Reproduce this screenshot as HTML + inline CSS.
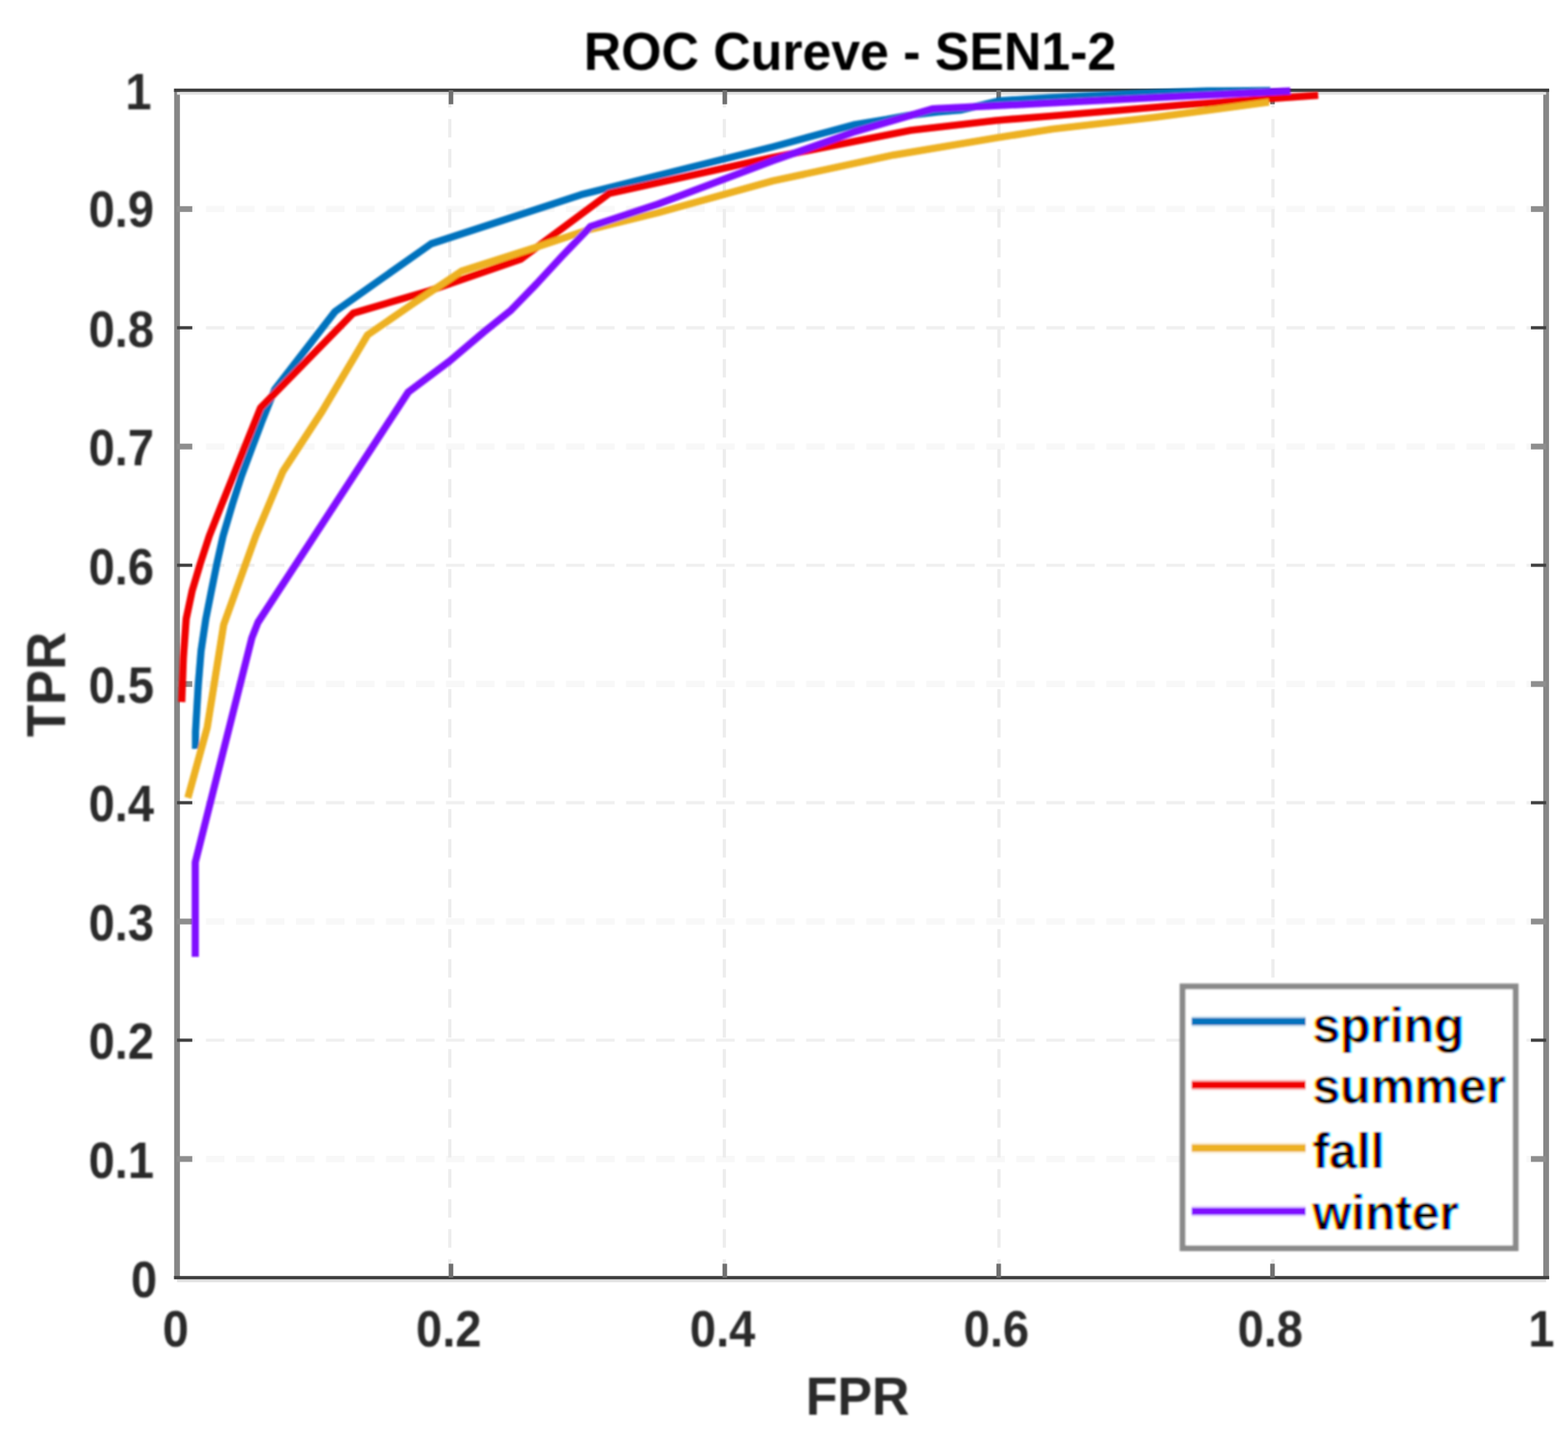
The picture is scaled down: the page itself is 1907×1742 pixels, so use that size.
<!DOCTYPE html>
<html lang="en"><head><meta charset="utf-8">
<title>ROC Cureve - SEN1-2</title>
<style>
html,body{margin:0;padding:0;background:#fff;}
body{width:1907px;height:1742px;}
svg{display:block;}
text{font-family:"Liberation Sans",sans-serif;font-weight:bold;}
.tk{fill:#2a2a2a;}
.lb{fill:#2a2a2a;}
.tt{fill:#000;}
.lg{fill:#000;}
.cv{fill:none;stroke-width:8.7;stroke-linejoin:round;stroke-linecap:butt;}
</style></head><body>
<svg width="1907" height="1742" viewBox="0 0 1907 1742">
<defs>
<filter id="soft" x="-2%" y="-2%" width="104%" height="104%"><feGaussianBlur stdDeviation="1"/></filter>
<filter id="soft2" x="-2%" y="-2%" width="104%" height="104%"><feGaussianBlur stdDeviation="0.7"/></filter>
<filter id="ct" x="-5%" y="-5%" width="110%" height="110%" color-interpolation-filters="sRGB">
<feOffset in="SourceAlpha" dx="1.6" result="aR"/>
<feOffset in="SourceAlpha" dx="-1.6" result="aB"/>
<feColorMatrix in="aR" type="matrix" values="0 0 0 0 0  0 0 0 0 1  0 0 0 0 1  0 0 0 1 0" result="cR"/>
<feColorMatrix in="SourceAlpha" type="matrix" values="0 0 0 0 1  0 0 0 0 0  0 0 0 0 1  0 0 0 1 0" result="cG"/>
<feColorMatrix in="aB" type="matrix" values="0 0 0 0 1  0 0 0 0 1  0 0 0 0 0  0 0 0 1 0" result="cB"/>
<feBlend in="cR" in2="cG" mode="multiply" result="m1"/>
<feBlend in="m1" in2="cB" mode="multiply"/>
</filter>
</defs>
<rect width="1907" height="1742" fill="#fff"/>
<g filter="url(#soft2)">
<g stroke-dasharray="22.5 14" fill="none">
<line x1="215.3" y1="1409.9" x2="1880.4" y2="1409.9" stroke-dashoffset="1.3" stroke="#f8f8f8" stroke-width="7.6"/>
<line x1="215.3" y1="1265.4" x2="1880.4" y2="1265.4" stroke-dashoffset="1.3" stroke="#f0f0f0" stroke-width="3.9"/>
<line x1="215.3" y1="1121.0" x2="1880.4" y2="1121.0" stroke-dashoffset="1.3" stroke="#f8f8f8" stroke-width="7.6"/>
<line x1="215.3" y1="976.5" x2="1880.4" y2="976.5" stroke-dashoffset="1.3" stroke="#f0f0f0" stroke-width="3.9"/>
<line x1="215.3" y1="832.1" x2="1880.4" y2="832.1" stroke-dashoffset="1.3" stroke="#f8f8f8" stroke-width="7.6"/>
<line x1="215.3" y1="687.6" x2="1880.4" y2="687.6" stroke-dashoffset="1.3" stroke="#f0f0f0" stroke-width="3.9"/>
<line x1="215.3" y1="543.2" x2="1880.4" y2="543.2" stroke-dashoffset="1.3" stroke="#f8f8f8" stroke-width="7.6"/>
<line x1="215.3" y1="398.7" x2="1880.4" y2="398.7" stroke-dashoffset="1.3" stroke="#f0f0f0" stroke-width="3.9"/>
<line x1="215.3" y1="254.3" x2="1880.4" y2="254.3" stroke-dashoffset="1.3" stroke="#f8f8f8" stroke-width="7.6"/>
</g>
<g stroke="#ededed" stroke-width="3.9" stroke-dasharray="22.5 14" fill="none">
<line x1="547.1" y1="1554.3" x2="547.1" y2="109.8"/>
<line x1="880.9" y1="1554.3" x2="880.9" y2="109.8"/>
<line x1="1214.9" y1="1554.3" x2="1214.9" y2="109.8"/>
<line x1="1548.2" y1="1554.3" x2="1548.2" y2="109.8"/>
</g>
<g fill="none">
<line x1="215.3" y1="109.8" x2="215.3" y2="1554.3" stroke="#868686" stroke-width="7"/>
<line x1="1880.4" y1="109.8" x2="1880.4" y2="1554.3" stroke="#868686" stroke-width="7"/>
<line x1="215.3" y1="113.4" x2="1880.4" y2="113.4" stroke="#e2e2e2" stroke-width="3.6"/>
<line x1="215.3" y1="1557.9" x2="1880.4" y2="1557.9" stroke="#e2e2e2" stroke-width="3.6"/>
<line x1="211.6" y1="109.8" x2="1884.1" y2="109.8" stroke="#3e3e3e" stroke-width="3.9"/>
<line x1="211.6" y1="1554.3" x2="1884.1" y2="1554.3" stroke="#3e3e3e" stroke-width="3.9"/>
<line x1="215.3" y1="1409.9" x2="233.8" y2="1409.9" stroke="#8e8e8e" stroke-width="7"/>
<line x1="1880.4" y1="1409.9" x2="1861.9" y2="1409.9" stroke="#8e8e8e" stroke-width="7"/>
<line x1="215.3" y1="1265.4" x2="233.8" y2="1265.4" stroke="#404040" stroke-width="3.9"/>
<line x1="1880.4" y1="1265.4" x2="1861.9" y2="1265.4" stroke="#404040" stroke-width="3.9"/>
<line x1="215.3" y1="1121.0" x2="233.8" y2="1121.0" stroke="#8e8e8e" stroke-width="7"/>
<line x1="1880.4" y1="1121.0" x2="1861.9" y2="1121.0" stroke="#8e8e8e" stroke-width="7"/>
<line x1="215.3" y1="976.5" x2="233.8" y2="976.5" stroke="#404040" stroke-width="3.9"/>
<line x1="1880.4" y1="976.5" x2="1861.9" y2="976.5" stroke="#404040" stroke-width="3.9"/>
<line x1="215.3" y1="832.1" x2="233.8" y2="832.1" stroke="#8e8e8e" stroke-width="7"/>
<line x1="1880.4" y1="832.1" x2="1861.9" y2="832.1" stroke="#8e8e8e" stroke-width="7"/>
<line x1="215.3" y1="687.6" x2="233.8" y2="687.6" stroke="#404040" stroke-width="3.9"/>
<line x1="1880.4" y1="687.6" x2="1861.9" y2="687.6" stroke="#404040" stroke-width="3.9"/>
<line x1="215.3" y1="543.2" x2="233.8" y2="543.2" stroke="#8e8e8e" stroke-width="7"/>
<line x1="1880.4" y1="543.2" x2="1861.9" y2="543.2" stroke="#8e8e8e" stroke-width="7"/>
<line x1="215.3" y1="398.7" x2="233.8" y2="398.7" stroke="#404040" stroke-width="3.9"/>
<line x1="1880.4" y1="398.7" x2="1861.9" y2="398.7" stroke="#404040" stroke-width="3.9"/>
<line x1="215.3" y1="254.3" x2="233.8" y2="254.3" stroke="#8e8e8e" stroke-width="7"/>
<line x1="1880.4" y1="254.3" x2="1861.9" y2="254.3" stroke="#8e8e8e" stroke-width="7"/>
<line x1="548.5" y1="1554.3" x2="548.5" y2="1537.3" stroke="#707070" stroke-width="5.6"/>
<line x1="548.5" y1="109.8" x2="548.5" y2="126.8" stroke="#707070" stroke-width="5.6"/>
<line x1="881.5" y1="1554.3" x2="881.5" y2="1537.3" stroke="#707070" stroke-width="5.6"/>
<line x1="881.5" y1="109.8" x2="881.5" y2="126.8" stroke="#707070" stroke-width="5.6"/>
<line x1="1214.6" y1="1554.3" x2="1214.6" y2="1537.3" stroke="#707070" stroke-width="5.6"/>
<line x1="1214.6" y1="109.8" x2="1214.6" y2="126.8" stroke="#707070" stroke-width="5.6"/>
<line x1="1547.6" y1="1554.3" x2="1547.6" y2="1537.3" stroke="#707070" stroke-width="5.6"/>
<line x1="1547.6" y1="109.8" x2="1547.6" y2="126.8" stroke="#707070" stroke-width="5.6"/>
</g>
</g>
<g filter="url(#soft)">
<polyline class="cv" stroke="#0072bd" stroke-opacity="0.18" stroke-width="13.6" points="237.8,911.0 237.8,890.0 241.1,833.9 244.5,792.0 250.3,753.0 257.0,719.1 263.8,685.5 271.3,652.0 282.8,613.0 293.6,579.1 306.2,545.5 318.8,512.0 334.0,474.0 407.5,379.0 524.5,296.5 706.8,236.8 940.0,178.6 1040.0,151.5 1078.0,145.4 1105.0,140.4 1141.0,136.2 1168.0,134.0 1216.0,122.5 1280.0,118.6 1380.0,113.8 1469.0,110.7 1545.0,110.2"/>
<polyline class="cv" stroke="#0072bd" points="237.8,911.0 237.8,890.0 241.1,833.9 244.5,792.0 250.3,753.0 257.0,719.1 263.8,685.5 271.3,652.0 282.8,613.0 293.6,579.1 306.2,545.5 318.8,512.0 334.0,474.0 407.5,379.0 524.5,296.5 706.8,236.8 940.0,178.6 1040.0,151.5 1078.0,145.4 1105.0,140.4 1141.0,136.2 1168.0,134.0 1216.0,122.5 1280.0,118.6 1380.0,113.8 1469.0,110.7 1545.0,110.2"/>
<polyline class="cv" stroke="#f00000" stroke-opacity="0.18" stroke-width="13.6" points="221.0,854.0 223.0,800.0 226.4,753.0 233.6,719.1 243.6,685.5 254.5,652.0 269.5,614.0 283.6,579.1 297.0,545.5 317.0,496.0 429.5,381.0 521.7,353.8 633.0,315.5 741.0,235.3 940.0,191.5 1107.8,158.5 1212.0,146.5 1280.0,141.0 1440.0,127.5 1603.2,115.8"/>
<polyline class="cv" stroke="#f00000" points="221.0,854.0 223.0,800.0 226.4,753.0 233.6,719.1 243.6,685.5 254.5,652.0 269.5,614.0 283.6,579.1 297.0,545.5 317.0,496.0 429.5,381.0 521.7,353.8 633.0,315.5 741.0,235.3 940.0,191.5 1107.8,158.5 1212.0,146.5 1280.0,141.0 1440.0,127.5 1603.2,115.8"/>
<polyline class="cv" stroke="#edb120" stroke-opacity="0.18" stroke-width="13.6" points="228.5,970.5 252.0,885.0 272.0,760.0 311.0,652.0 344.0,573.5 392.0,500.0 447.0,407.5 500.7,370.5 561.0,330.0 651.7,300.8 714.6,279.9 800.0,258.9 940.0,220.0 1086.8,188.6 1212.7,167.5 1280.0,157.0 1406.0,142.5 1543.3,124.2"/>
<polyline class="cv" stroke="#edb120" points="228.5,970.5 252.0,885.0 272.0,760.0 311.0,652.0 344.0,573.5 392.0,500.0 447.0,407.5 500.7,370.5 561.0,330.0 651.7,300.8 714.6,279.9 800.0,258.9 940.0,220.0 1086.8,188.6 1212.7,167.5 1280.0,157.0 1406.0,142.5 1543.3,124.2"/>
<polyline class="cv" stroke="#8010ff" stroke-opacity="0.18" stroke-width="13.6" points="237.5,1164.0 237.5,1049.0 306.3,776.0 313.8,757.0 496.5,477.0 546.8,439.3 588.8,403.6 621.5,377.3 652.5,345.4 683.6,311.6 718.0,275.7 800.0,248.4 940.0,195.5 1040.0,160.0 1135.0,132.3 1280.0,125.2 1440.0,116.9 1569.3,110.6"/>
<polyline class="cv" stroke="#8010ff" points="237.5,1164.0 237.5,1049.0 306.3,776.0 313.8,757.0 496.5,477.0 546.8,439.3 588.8,403.6 621.5,377.3 652.5,345.4 683.6,311.6 718.0,275.7 800.0,248.4 940.0,195.5 1040.0,160.0 1135.0,132.3 1280.0,125.2 1440.0,116.9 1569.3,110.6"/>
<rect x="1438.2" y="1199.9" width="405.1" height="318.6" fill="#fff" stroke="#8a8a8a" stroke-width="7"/>
<line x1="1449.3" y1="1242.7" x2="1588" y2="1242.7" stroke="#0072bd" stroke-opacity="0.18" stroke-width="13.6"/>
<line x1="1449.3" y1="1242.7" x2="1588" y2="1242.7" stroke="#0072bd" stroke-width="8.7"/>
<line x1="1449.3" y1="1319.8" x2="1588" y2="1319.8" stroke="#f00000" stroke-opacity="0.18" stroke-width="13.6"/>
<line x1="1449.3" y1="1319.8" x2="1588" y2="1319.8" stroke="#f00000" stroke-width="8.7"/>
<line x1="1449.3" y1="1396.6" x2="1588" y2="1396.6" stroke="#edb120" stroke-opacity="0.18" stroke-width="13.6"/>
<line x1="1449.3" y1="1396.6" x2="1588" y2="1396.6" stroke="#edb120" stroke-width="8.7"/>
<line x1="1449.3" y1="1473.5" x2="1588" y2="1473.5" stroke="#8010ff" stroke-opacity="0.18" stroke-width="13.6"/>
<line x1="1449.3" y1="1473.5" x2="1588" y2="1473.5" stroke="#8010ff" stroke-width="8.7"/>
<g filter="url(#ct)">
<text class="lg" font-size="60.4" text-anchor="start" transform="translate(1596.20 1267.50) scale(1 1.0250)">spring</text>
<text class="lg" font-size="60.4" text-anchor="start" transform="translate(1596.20 1342.30) scale(1 1.0250)">summer</text>
<text class="lg" font-size="60.4" text-anchor="start" transform="translate(1596.20 1420.70) scale(1 1.0250)">fall</text>
<text class="lg" font-size="60.4" text-anchor="start" transform="translate(1596.20 1495.70) scale(1 1.0250)">winter</text>
</g>
<text class="tk" font-size="57.2" text-anchor="end" transform="translate(191.10 1577.98) scale(1 1.1000)">0</text>
<text class="tk" font-size="57.2" text-anchor="end" transform="translate(187.30 1432.83) scale(1 1.1000)">0.1</text>
<text class="tk" font-size="57.2" text-anchor="end" transform="translate(187.30 1288.38) scale(1 1.1000)">0.2</text>
<text class="tk" font-size="57.2" text-anchor="end" transform="translate(187.30 1143.93) scale(1 1.1000)">0.3</text>
<text class="tk" font-size="57.2" text-anchor="end" transform="translate(187.30 999.48) scale(1 1.1000)">0.4</text>
<text class="tk" font-size="57.2" text-anchor="end" transform="translate(187.30 855.03) scale(1 1.1000)">0.5</text>
<text class="tk" font-size="57.2" text-anchor="end" transform="translate(187.30 710.58) scale(1 1.1000)">0.6</text>
<text class="tk" font-size="57.2" text-anchor="end" transform="translate(187.30 565.93) scale(1 1.1000)">0.7</text>
<text class="tk" font-size="57.2" text-anchor="end" transform="translate(187.30 421.78) scale(1 1.1000)">0.8</text>
<text class="tk" font-size="57.2" text-anchor="end" transform="translate(187.30 275.98) scale(1 1.1000)">0.9</text>
<text class="tk" font-size="57.2" text-anchor="end" transform="translate(184.30 133.43) scale(1 1.1000)">1</text>
<text class="tk" font-size="57.2" text-anchor="middle" transform="translate(213.70 1638.20) scale(1 1.1000)">0</text>
<text class="tk" font-size="57.2" text-anchor="middle" transform="translate(545.82 1638.20) scale(1 1.1000)">0.2</text>
<text class="tk" font-size="57.2" text-anchor="middle" transform="translate(878.84 1638.20) scale(1 1.1000)">0.4</text>
<text class="tk" font-size="57.2" text-anchor="middle" transform="translate(1211.86 1638.20) scale(1 1.1000)">0.6</text>
<text class="tk" font-size="57.2" text-anchor="middle" transform="translate(1544.88 1638.20) scale(1 1.1000)">0.8</text>
<text class="tk" font-size="57.2" text-anchor="middle" transform="translate(1874.60 1638.20) scale(1 1.1000)">1</text>
<text class="lb" font-size="63.1" text-anchor="start" transform="translate(980.00 1721.00) scale(1 1.0260)">FPR</text>
<text class="lb" font-size="64" text-anchor="start" transform="translate(79.50 896.60) rotate(-90) scale(1 1.0400)">TPR</text>
<text class="tt" font-size="63" text-anchor="start" transform="translate(710.00 85.00) scale(1 1.0300)">ROC Cureve - SEN1-2</text>
</g>
</svg>
</body></html>
